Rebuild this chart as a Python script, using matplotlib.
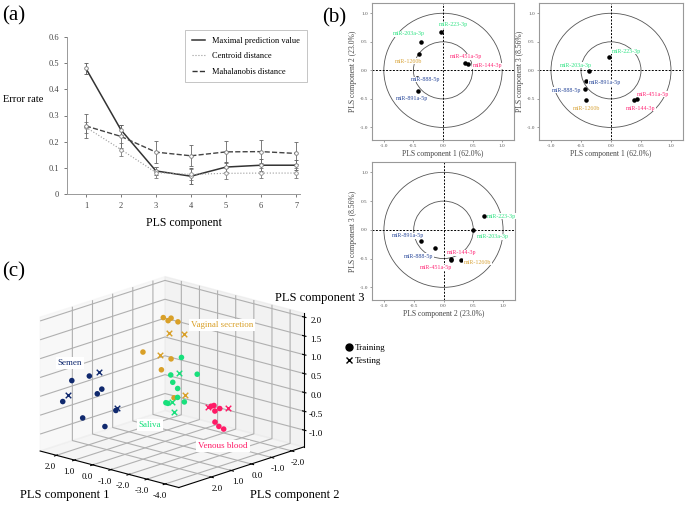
import numpy as np
import matplotlib
matplotlib.use('Agg')
import matplotlib.pyplot as plt
from matplotlib.patches import Circle
from matplotlib.lines import Line2D
from matplotlib.ticker import FormatStrFormatter

plt.rcParams['font.family'] = ['Liberation Serif', 'DejaVu Serif']

W, H = 685, 505

# ---- (a) error rate vs number of PLS components
components = [1, 2, 3, 4, 5, 6, 7]
maxpred = [0.48, 0.245, 0.088, 0.068, 0.103, 0.110, 0.110]
maxpred_err = [0.022, 0.020, 0.015, 0.030, 0.020, 0.022, 0.020]
centroid = [0.255, 0.170, 0.082, 0.075, 0.079, 0.080, 0.080]
centroid_err = [0.020, 0.025, 0.020, 0.020, 0.022, 0.020, 0.020]
mahal = [0.260, 0.220, 0.160, 0.146, 0.161, 0.162, 0.155]
mahal_err = [0.045, 0.045, 0.042, 0.040, 0.042, 0.044, 0.042]

# ---- (b) loadings
mirnas = ['miR-223-3p', 'miR-203a-3p', 'miR-1260b', 'miR-451a-5p',
          'miR-144-3p', 'miR-888-5p', 'miR-891a-5p']
load_c1 = [-0.03, -0.37, -0.41, 0.38, 0.43, -0.44, -0.42]
load_c2 = [0.68, 0.50, 0.29, 0.13, 0.12, -0.14, -0.37]
load_c3 = [0.24, -0.01, -0.52, -0.52, -0.50, -0.32, -0.19]
mirna_colors = ['#2ee383', '#2ee383', '#d9a53c', '#ff2a78', '#ff2a78',
                '#2c4b9c', '#2c4b9c']

# label positions (data units) for each loading plot
lab12 = [(0.17, 0.80), (-0.58, 0.64), (-0.58, 0.16), (0.38, 0.24),
         (0.75, 0.08), (-0.30, -0.16), (-0.52, -0.50)]
lab13 = [(0.25, 0.33), (-0.58, 0.09), (-0.40, -0.66), (0.70, -0.42),
         (0.49, -0.66), (-0.74, -0.35), (-0.10, -0.22)]
lab23 = [(0.98, 0.24), (0.82, -0.12), (0.57, -0.56), (-0.13, -0.66),
         (0.31, -0.40), (-0.42, -0.46), (-0.60, -0.10)]

# ---- (c) 3D scores
semen_train = ([2.53, 2.82, 2.62, 1.22, 1.47, 0.32, 0.79, 0.36],
               [2.36, 2.55, 1.74, 2.67, 2.05, 2.86, 1.74, 2.67],
               [0.25, -0.31, -0.86, 0.59, -0.02, 0.39, -0.43, -0.64])
semen_test = ([2.75, 1.37, 0.59],
              [2.36, 2.05, 1.86],
              [-0.17, 0.58, -0.31])
vaginal_train = ([0.24, -0.37, -0.19, -0.57, 2.05, -0.19, 0.00, -0.01],
                 [-0.12, 0.19, -0.12, -0.12, -0.74, -0.12, 0.19, -0.43],
                 [1.78, 1.83, 1.82, 1.77, 0.53, 0.74, 0.48, -0.37])
vaginal_test = ([0.26, -0.89, 0.40, -0.95],
                [-0.43, -0.12, -0.12, -0.12],
                [1.31, 1.50, 0.76, -0.12])
saliva_train = ([-2.14, -1.55, -2.32, -1.66, -1.93, -2.27, -1.28, -1.05, -2.30],
                [1.12, 1.12, 0.50, 1.12, 1.12, 1.43, 1.12, 0.81, 1.12],
                [1.24, 0.70, 0.71, 0.52, 0.39, 0.25, -0.07, -0.17, 0.08])
saliva_test = ([-2.03, -1.61, -1.71],
               [1.12, 1.12, 1.12],
               [0.81, -0.02, -0.26])
venous_train = ([-2.74, -2.90, -3.22, -2.95, -2.61, -3.17, -3.78],
                [0.19, 0.19, 0.19, 0.19, -0.12, 0.19, 0.50],
                [-0.14, -0.10, -0.14, -0.24, -0.63, -0.62, -0.56])
venous_test = ([-2.58, -3.66],
               [0.19, 0.19],
               [-0.19, -0.07])

groups = [('Semen', semen_train, semen_test, '#10296e'),
          ('Vaginal secretion', vaginal_train, vaginal_test, '#d9a028'),
          ('Saliva', saliva_train, saliva_test, '#18e07c'),
          ('Venous blood', venous_train, venous_test, '#ff1a66')]


def fx(x):
    return x / W


def fy(y):
    return 1 - y / H


fig = plt.figure(figsize=(W / 100, H / 100), dpi=100)

# ================= (a)
ax = fig.add_axes([fx(67), fy(194), fx(300) - fx(67), fy(37) - fy(194)])
kw = dict(ms=2.6, mfc='white', mew=0.6, capsize=1.5, elinewidth=0.6, capthick=0.6)
ax.errorbar(components, maxpred, yerr=maxpred_err, color='#333333', lw=1.1,
            ls='-', marker='o', mec='#777777', ecolor='#555555',
            label='Maximal prediction value', **kw)
ax.errorbar(components, centroid, yerr=centroid_err, color='#999999', lw=0.8,
            ls=':', marker='o', mec='#888888', ecolor='#777777',
            label='Centroid distance', **kw)
ax.errorbar(components, mahal, yerr=mahal_err, color='#444444', lw=1.0,
            ls='--', marker='o', mec='#777777', ecolor='#666666',
            label='Mahalanobis distance', **kw)
ax.set_xlim(0.46, 7.11)
ax.set_ylim(0, 0.6)
ax.set_xticks(components)
ax.set_yticks([0, 0.1, 0.2, 0.3, 0.4, 0.5, 0.6])
ax.set_yticklabels(['0', '0.1', '0.2', '0.3', '0.4', '0.5', '0.6'])
ax.tick_params(labelsize=6, colors='#444444', length=2, width=0.5)
for s in ['top', 'right']:
    ax.spines[s].set_visible(False)
for s in ['left', 'bottom']:
    ax.spines[s].set_color('#999999')
    ax.spines[s].set_linewidth(0.7)
ax.set_xlabel('PLS component', fontsize=8.5, labelpad=5)
fig.text(fx(3), fy(99), 'Error rate', fontsize=7.5, va='center')
handles = [Line2D([], [], color='#333333', lw=1.1, ls='-'),
           Line2D([], [], color='#999999', lw=0.8, ls=':'),
           Line2D([], [], color='#333333', lw=1.0, ls='--')]
leg = ax.legend(handles, ['Maximal prediction value', 'Centroid distance',
                          'Mahalanobis distance'],
                loc='upper left', bbox_to_anchor=(fx(185), fy(30)),
                bbox_transform=fig.transFigure, fontsize=6, fancybox=False,
                edgecolor='#aaaaaa', handlelength=1.6, borderpad=0.8,
                borderaxespad=0, labelspacing=0.9, handletextpad=0.9)
leg.get_frame().set_linewidth(0.6)
fig.text(fx(2), fy(16), '(a)', fontsize=15, va='center')

# ================= (b)


def loading_plot(rect, xs, ys, labpos, xlabel, ylabel):
    a = fig.add_axes(rect)
    for r in (0.5, 1.0):
        a.add_patch(Circle((0, 0), r, fill=False, ec='#555555', lw=0.6))
    a.axhline(0, color='black', lw=0.7, ls=(0, (2, 1.5)))
    a.axvline(0, color='black', lw=0.7, ls=(0, (2, 1.5)))
    a.scatter(xs, ys, s=5, color='black', zorder=3)
    for name, c, (tx, ty) in zip(mirnas, mirna_colors, labpos):
        a.text(tx, ty, name, color=c, fontsize=4.3, ha='center', va='center',
               zorder=5, clip_on=False,
               bbox=dict(fc='white', ec='none', pad=0.3))
    a.set_xlim(-1.2, 1.2)
    a.set_ylim(-1.22, 1.18)
    ticks = [-1.0, -0.5, 0.0, 0.5, 1.0]
    a.set_xticks(ticks)
    a.set_yticks(ticks)
    a.xaxis.set_major_formatter(FormatStrFormatter('%.1f'))
    a.yaxis.set_major_formatter(FormatStrFormatter('%.1f'))
    a.tick_params(labelsize=3.8, colors='#555555', length=1.5, width=0.4, pad=1.5)
    for s in a.spines.values():
        s.set_color('#999999')
        s.set_linewidth(0.8)
    a.set_xlabel(xlabel, fontsize=5.5, color='#444444', labelpad=1.5)
    a.set_ylabel(ylabel, fontsize=5.5, color='#444444', labelpad=1.5)
    return a


loading_plot([fx(372), fy(140), fx(514) - fx(372), fy(3) - fy(140)],
             load_c1, load_c2, lab12,
             'PLS component 1 (62.0%)', 'PLS component 2 (23.0%)')
loading_plot([fx(539), fy(140), fx(683) - fx(539), fy(3) - fy(140)],
             load_c1, load_c3, lab13,
             'PLS component 1 (62.0%)', 'PLS component 3 (8.56%)')
loading_plot([fx(372), fy(300), fx(515) - fx(372), fy(162) - fy(300)],
             load_c2, load_c3, lab23,
             'PLS component 2 (23.0%)', 'PLS component 3 (8.56%)')
fig.text(fx(322), fy(18), '(b)', fontsize=15, va='center')

# ================= (c)
side = 290
ax3 = fig.add_axes([fx(168 - side / 2), fy(386 + side / 2),
                    side / W, side / H], projection='3d')
ax3.set_proj_type('ortho')
ax3.view_init(elev=17, azim=132)
for name, tr, te, col in groups:
    ax3.scatter(tr[0], tr[1], tr[2], color=col, s=16, marker='o',
                depthshade=False, edgecolors='none')
    ax3.scatter(te[0], te[1], te[2], color=col, s=16, marker='x',
                depthshade=False, linewidths=1.0)
ax3.set_xlim(-4.75, 2.9)
ax3.set_ylim(-2.6, 3.6)
ax3.set_zlim(-1.45, 2.1)
ax3.set_xticks([-4, -3, -2, -1, 0, 1, 2])
ax3.set_yticks([-2, -1, 0, 1, 2])
ax3.set_zticks([-1.0, -0.5, 0.0, 0.5, 1.0, 1.5, 2.0])
for axis in (ax3.xaxis, ax3.yaxis, ax3.zaxis):
    axis.set_major_formatter(FormatStrFormatter('%.1f'))
ax3.tick_params(labelsize=6.5, pad=-3)

fig.text(fx(20), fy(495), 'PLS component 1', fontsize=9, va='center')
fig.text(fx(250), fy(495), 'PLS component 2', fontsize=9, va='center')
fig.text(fx(275), fy(298), 'PLS component 3', fontsize=9, va='center')

label_pos = {'Semen': (70, 363), 'Vaginal secretion': (222, 325),
             'Saliva': (150, 425), 'Venous blood': (223, 446)}
for name, tr, te, col in groups:
    px, py = label_pos[name]
    fig.text(fx(px), fy(py), name, color=col, fontsize=6.5, ha='center',
             va='center', bbox=dict(fc='white', ec='none', pad=1.5))

leg_handles = [Line2D([], [], color='black', marker='o', ls='none', ms=5),
               Line2D([], [], color='black', marker='x', ls='none', ms=4, mew=1.0)]
fig.legend(leg_handles, ['Training', 'Testing'], loc='upper left',
           bbox_to_anchor=(fx(336), fy(336)), frameon=False, fontsize=6.5,
           handletextpad=0.2, labelspacing=0.5, handlelength=1.0)
fig.text(fx(2), fy(272), '(c)', fontsize=15, va='center')

fig.savefig('out.png', dpi=100)
